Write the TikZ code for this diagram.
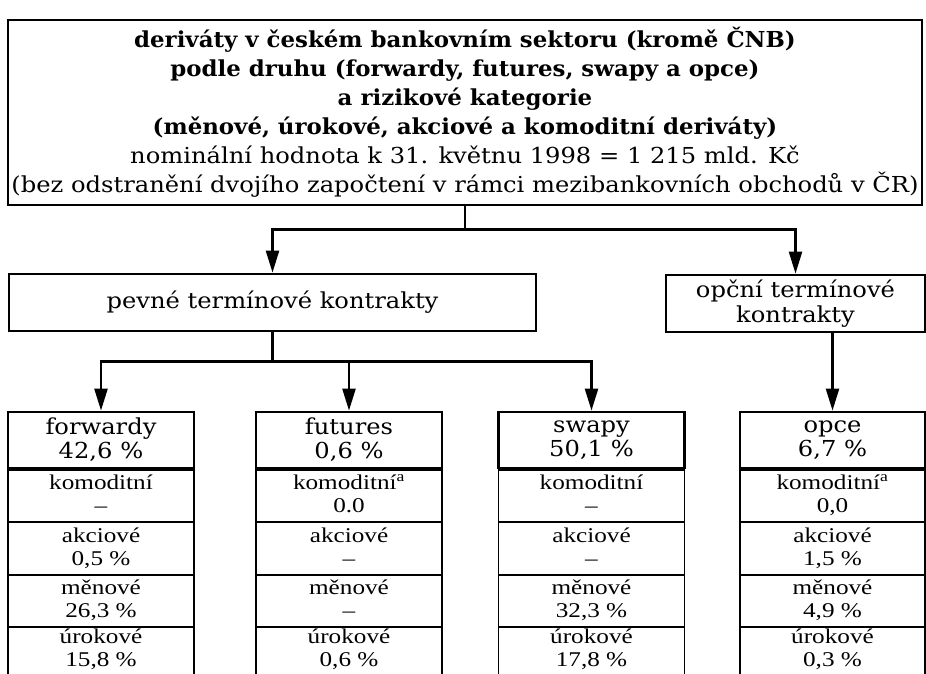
\documentclass[tikz,border=0pt]{standalone}
\usepackage{fontspec}
\setmainfont{DejaVu Serif}[FakeStretch=1.1, BoldFeatures={FakeStretch=1.04}]
\newfontfamily\rowfont[FakeStretch=1.2]{Liberation Serif}
\usetikzlibrary{positioning,arrows.meta}

\tikzset{
  box/.style={draw, line width=2.8pt, align=center, inner sep=0pt},
  head/.style={draw, line width=2.8pt, minimum width=186pt, minimum height=56pt, align=center, inner sep=0pt,
    font=\fontsize{22}{24}\selectfont},
  cell/.style={draw, line width=1.1pt, minimum width=186pt, minimum height=51.5pt, align=center, inner sep=0pt,
    text depth=4pt, font=\rowfont\fontsize{21}{23}\selectfont},
  lastcell/.style={cell, minimum height=58pt, text depth=18pt},
  link/.style={line width=2.4pt},
  arr/.style={line width=2.4pt, -{Triangle[length=22pt,width=13pt]}},
}

\begin{document}
\begin{tikzpicture}[x=1pt,y=-1pt]
  \clip (0,0) rectangle (926,674);

  % title box
  \node[box, minimum width=914pt, minimum height=185pt, font=\fontsize{22}{29}\selectfont] (title) at (465,112.5)
    {\textbf{deriváty v českém bankovním sektoru (kromě ČNB)}\\
     \textbf{podle druhu (forwardy, futures, swapy a opce)}\\
     \textbf{a rizikové kategorie}\\
     \textbf{(měnové, úrokové, akciové a komoditní deriváty)}\\
     nominální hodnota k 31. květnu 1998 = 1 215 mld. Kč\\
     (bez odstranění dvojího započtení v rámci mezibankovních obchodů v ČR)};

  % second level
  \node[box, minimum width=527pt, minimum height=57pt, font=\fontsize{22}{27}\selectfont] (pevne) at (272.5,302.5)
    {pevné termínové kontrakty};
  \node[box, minimum width=259pt, minimum height=57pt, font=\fontsize{22}{25}\selectfont] (opcni) at (795.5,303.5)
    {opční termínové\\kontrakty};

  % forwardy
  \node[head] (fwd) at (101,440) {forwardy\\42,6 \%};
  \node[cell, below=0pt of fwd] (fwd1) {komoditní\\–};
  \node[cell, below=0pt of fwd1] (fwd2) {akciové\\0,5 \%};
  \node[cell, below=0pt of fwd2] (fwd3) {měnové\\26,3 \%};
  \node[lastcell, below=0pt of fwd3] (fwd4) {úrokové\\15,8 \%};

  % futures
  \node[head] (fut) at (349,440) {futures\\0,6 \%};
  \node[cell, below=0pt of fut] (fut1) {komoditní\textsuperscript{a}\\0.0};
  \node[cell, below=0pt of fut1] (fut2) {akciové\\–};
  \node[cell, below=0pt of fut2] (fut3) {měnové\\–};
  \node[lastcell, below=0pt of fut3] (fut4) {úrokové\\0,6 \%};

  % swapy
  \node[head] (swp) at (591.5,440) {swapy\\50,1 \%};
  \node[cell, below=0pt of swp] (swp1) {komoditní\\–};
  \node[cell, below=0pt of swp1] (swp2) {akciové\\–};
  \node[cell, below=0pt of swp2] (swp3) {měnové\\32,3 \%};
  \node[lastcell, below=0pt of swp3] (swp4) {úrokové\\17,8 \%};

  % opce
  \node[head, minimum width=185pt] (opc) at (832.5,440) {opce\\6,7 \%};
  \node[cell, minimum width=185pt, below=0pt of opc] (opc1) {komoditní\textsuperscript{a}\\0,0};
  \node[cell, minimum width=185pt, below=0pt of opc1] (opc2) {akciové\\1,5 \%};
  \node[cell, minimum width=185pt, below=0pt of opc2] (opc3) {měnové\\4,9 \%};
  \node[lastcell, minimum width=185pt, below=0pt of opc3] (opc4) {úrokové\\0,3 \%};

  % connectors
  \path (title.south) ++(0,23) coordinate (j1);
  \path (pevne.south) ++(0,29) coordinate (j2);
  \draw[link] (title.south) -- (j1);
  \draw[arr] (j1) -| (pevne.north);
  \draw[arr] (j1) -| (opcni.north);
  \draw[link] (pevne.south) -- (j2);
  \draw[arr] (j2) -| (fwd.north);
  \draw[arr] (j2) -| (swp.north);
  \draw[arr] (j2 -| fut.north) -- (fut.north);
  \draw[arr] (opcni.south -| opc.north) -- (opc.north);
\end{tikzpicture}
\end{document}
